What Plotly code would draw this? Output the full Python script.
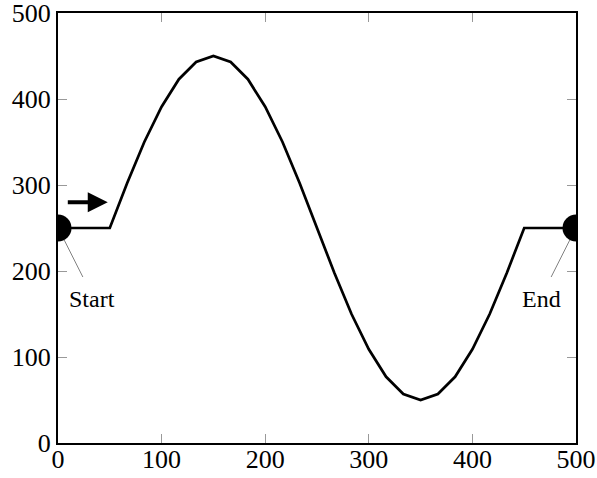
import plotly.graph_objects as go

x_vals = [0, 50, 66.7, 83.3, 100, 116.7, 133.3, 150, 166.7, 183.3, 200, 216.7, 233.3,
          250, 266.7, 283.3, 300, 316.7, 333.3, 350, 366.7, 383.3, 400, 416.7, 433.3, 450, 500]
y_vals = [250, 250, 302, 350, 391, 423, 443, 450, 443, 423, 391, 350, 302,
          250, 198, 150, 109, 77, 57, 50, 57, 77, 109, 150, 198, 250, 250]
end_x = [0, 500]
end_y = [250, 250]
labels = ["Start", "End"]
label_x = [33, 467]
label_y = [168, 168]
tick_vals = [0, 100, 200, 300, 400, 500]

font = "Liberation Serif"
fig = go.Figure()
fig.add_trace(go.Scatter(x=x_vals, y=y_vals, mode="lines",
                         line=dict(color="black", width=2.7), showlegend=False))
fig.add_trace(go.Scatter(x=end_x, y=end_y, mode="markers",
                         marker=dict(color="black", size=27), showlegend=False))

# connector lines
fig.add_shape(type="line", x0=6, y0=236, x1=24, y1=193, line=dict(color="gray", width=1))
fig.add_shape(type="line", x0=494, y0=236, x1=476, y1=193, line=dict(color="gray", width=1))

for t, lx, ly in zip(labels, label_x, label_y):
    fig.add_annotation(x=lx, y=ly, text=t, showarrow=False,
                       font=dict(family=font, size=24, color="black"))

fig.add_annotation(x=48, y=280, ax=8, ay=280, axref="x", ayref="y", xref="x", yref="y",
                   text="", showarrow=True, arrowhead=2, arrowsize=1, arrowwidth=4,
                   arrowcolor="black")

axis_common = dict(showgrid=False, zeroline=False, showline=True, linecolor="black",
                   linewidth=2, mirror="ticks", ticks="inside", ticklen=9,
                   tickcolor="#999999", tickwidth=1, tickvals=tick_vals,
                   automargin=False, ticklabeloverflow="allow",
                   tickfont=dict(family=font, size=26, color="black"))
fig.update_xaxes(range=[0, 500], ticklabelstandoff=-8, **axis_common)
fig.update_yaxes(range=[0, 500], **axis_common)

fig.update_layout(width=597, height=478, margin=dict(l=58, r=21, t=13, b=35),
                  plot_bgcolor="white", paper_bgcolor="white")
fig.write_html("out.html", config={"displayModeBar": False},
               post_script="document.body.style.margin='0';")
